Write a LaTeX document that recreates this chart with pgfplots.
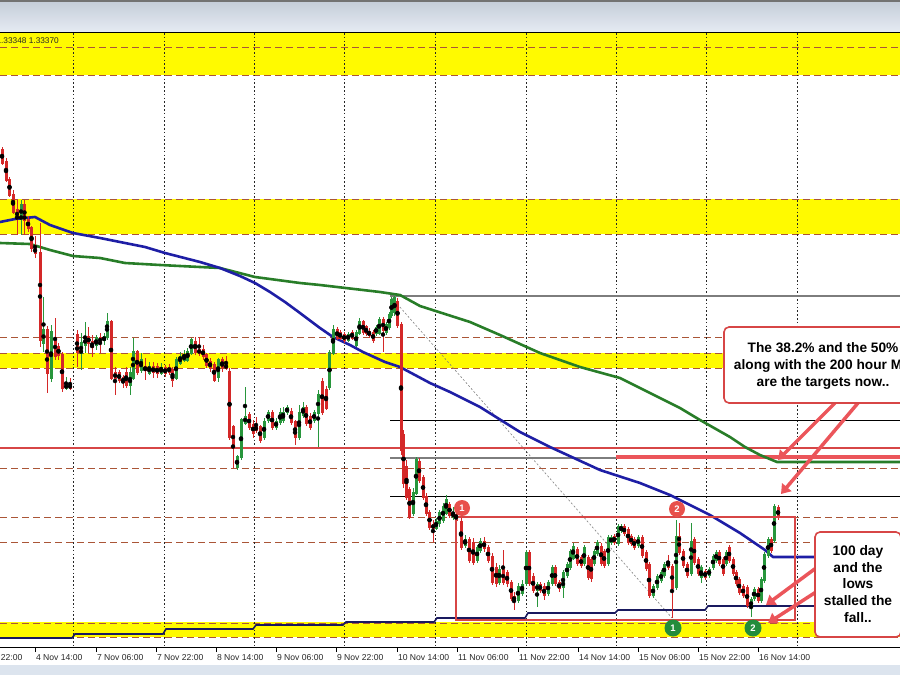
\documentclass[border=0pt]{standalone}
\usepackage{pgfplots}
\pgfplotsset{compat=1.18}
\usepackage{pgfplotstable}
\usepackage{fontspec}
\setmainfont{Liberation Sans}
\usetikzlibrary{arrows.meta}
\definecolor{cgreen}{RGB}{40,150,60}
\definecolor{cred}{RGB}{212,40,40}
\definecolor{mablue}{RGB}{30,30,165}
\definecolor{magreen}{RGB}{40,125,40}
\definecolor{navy}{RGB}{25,25,95}
\definecolor{yel}{RGB}{255,250,0}
\definecolor{dbrown}{RGB}{170,85,55}
\definecolor{fibgray}{RGB}{125,125,125}
\definecolor{boxred}{RGB}{215,70,70}
\definecolor{arrowred}{RGB}{235,85,90}
\definecolor{circred}{RGB}{232,80,75}
\definecolor{circgreen}{RGB}{35,140,60}
\definecolor{chrometop}{RGB}{196,204,216}
\definecolor{chromebot}{RGB}{228,234,242}
\definecolor{stripc}{RGB}{220,228,238}

% candles in screen units: o = open, c = close, h = high, l = low (smaller = higher price)
\pgfplotstableread{
x o c h l
2 150 163 147 165
6 162 180 158 182
9.5 180 195 177 197
13 195 212 190 214
17 210 218 200 235
21 218 205 200 235
24.5 205 220 200 235
28 220 228 216 232
31.5 228 248 226 252
35 248 253 236 258
40 253 340 223 347
43.5 343 330 297 352
47 330 373 326 393
51 378 332 325 382
55 338 356 318 360
58.5 347 355 343 360
62 355 388 352 392
66 388 385 377 390
70 385 388 378 390
77 335 352 330 367
81 353 343 333 370
85 345 338 322 353
88.5 337 343 327 353
92 342 347 335 357
96 345 338 335 350
100 338 342 333 353
104 340 337 333 345
107 337 322 313 340
111 322 378 320 380
115 373 378 367 395
119 373 380 370 383
123 378 382 375 388
126 373 385 367 388
130 385 373 367 395
133 378 352 338 380
137 352 372 350 375
141 370 360 353 373
145 367 370 358 380
149 373 367 362 375
153 367 372 362 378
157 367 373 363 378
161 373 368 363 375
165 368 373 365 377
169 368 372 364 375
172.5 370 380 367 387
176 378 360 357 380
180 363 357 352 365
184 360 356 350 362
187.5 360 352 348 362
191 353 340 338 355
195 342 352 337 355
199 350 353 337 356
203 350 356 345 360
206.5 355 365 353 368
210 362 367 358 372
214 365 380 362 382
218 377 360 358 382
222 360 367 357 372
226 365 368 356 370
229.5 372 437 368 440
233 427 447 425 468
237 467 457 455 470
241 457 420 418 460
245 423 417 387 425
249 415 427 412 430
253 425 433 420 438
256 427 430 417 433
260 427 440 425 443
264 437 422 418 440
268 420 413 410 423
272 413 427 410 430
276 427 422 418 430
280 422 413 408 425
283 420 413 407 423
287 412 408 405 415
291 412 422 408 425
295 422 437 420 445
299 437 413 405 440
303 415 408 402 418
306 408 423 405 426
310 417 427 413 430
314 420 413 410 423
318 413 395 390 447
322 382 412 378 415
326 390 408 386 410
329.5 387 353 350 390
333 353 330 325 355
337 330 338 327 340
340 333 338 330 340
344 335 340 332 343
348 340 335 332 342
352 333 338 330 340
356 345 333 330 347
359.5 333 322 318 335
363 322 332 320 335
366 327 333 325 336
369 332 335 328 338
373 333 340 330 343
376 333 328 325 336
379 333 320 317 335
383 320 330 317 352
386 332 325 322 335
389 327 315 312 330
391.5 315 300 297 318
394.5 312 298 296 316
397.5 302 325 298 328
401 325 450 322 455
403.5 435 483 430 488
406.5 467 497 460 500
409.5 490 517 487 519
413 513 493 488 516
416 493 460 457 495
419 462 480 458 483
423 478 497 475 500
426 497 513 493 516
429.5 513 527 510 530
433 525 528 520 542
436 528 522 518 530
439.5 523 513 510 527
443 520 507 503 523
446 513 500 495 515
449.5 505 515 502 518
453 517 513 507 520
456 515 520 510 523
461 522 547 517 550
465 545 540 535 548
469 540 560 537 563
473 543 562 538 565
477 560 548 545 563
480 550 542 538 553
484 542 548 537 552
488 548 560 545 563
492 557 582 553 585
496 568 583 563 587
499 582 570 565 585
503 570 582 550 585
507 573 583 570 587
511 583 598 580 601
514 597 600 592 610
518 600 587 583 603
522 593 585 580 596
526 583 553 550 586
529 553 583 550 586
533 577 590 573 593
537 590 585 582 607
540 585 590 582 593
544 587 595 583 600
548 593 583 580 596
552 583 568 565 586
555 568 583 565 586
559 583 588 580 592
563 587 573 570 598
567 575 565 562 578
570 567 552 549 570
573 558 547 543 560
577 550 563 547 566
581 558 565 555 568
584 563 548 545 566
588 558 577 555 580
591 560 578 557 582
594 563 552 549 566
597 553 543 540 556
601 547 563 543 566
604 552 565 549 568
608 563 538 535 566
611 542 538 535 545
614 537 542 534 545
618 543 527 524 546
621 530 527 524 533
624 527 533 524 536
628 530 542 527 545
631 537 543 534 546
634 540 547 537 550
638 545 538 535 548
642 538 555 535 558
646 553 568 550 571
649 565 595 562 598
653 595 587 584 598
657 587 577 574 590
661 580 573 570 583
664 575 565 562 578
668 562 567 555 570
672 567 588 564 618
676 587 537 520 590
679 537 552 523 555
683 552 565 549 568
687 565 575 562 578
691 573 542 523 576
694 540 562 537 565
698 560 573 557 576
701 577 568 565 583
705 572 577 569 580
709 575 570 567 578
713 567 557 554 570
716 560 553 550 563
719 553 563 550 566
723 560 573 557 576
726 563 553 550 566
729 548 560 545 563
733 560 573 557 576
736 573 583 570 586
739 580 592 577 595
743 587 595 584 598
747 588 605 585 608
751 607 600 597 617
754 598 590 587 601
758 590 600 587 603
761 600 580 577 603
764 580 555 552 583
768 555 540 537 558
771 540 550 537 553
774 540 507 504 543
778 508 517 505 520
}\candles

\begin{document}
\begin{tikzpicture}
\useasboundingbox (0pt,-28pt) rectangle (900pt,647pt);
\clip (0pt,-28pt) rectangle (900pt,647pt);
\begin{axis}[
  at={(0pt,0pt)}, anchor=south west,
  scale only axis, width=900pt, height=615pt,
  xmin=0, xmax=900, ymin=32, ymax=647, y dir=reverse,
  clip=false,
  axis line style={draw=none},
  ytick=\empty,
  xtick pos=left,
  tick align=outside,
  major tick length=5pt,
  tick style={black, line width=0.8pt},
  xtick={35,96,156,216,276,336,397,457,518,578,638,698,758},
  xticklabels={4 Nov 14:00,7 Nov 06:00,7 Nov 22:00,8 Nov 14:00,9 Nov 06:00,9 Nov 22:00,10 Nov 14:00,11 Nov 06:00,11 Nov 22:00,14 Nov 14:00,15 Nov 06:00,15 Nov 22:00,16 Nov 14:00},
  xticklabel style={anchor=north west, xshift=-2.5pt, yshift=1pt, font=\fontsize{8.6}{10}\selectfont, text=black!85},
]
% window chrome
\shade[top color=chrometop, bottom color=chromebot] (axis cs:0,0) rectangle (axis cs:900,31);
\fill[black!55] (axis cs:0,0) rectangle (axis cs:900,1.5);
\fill[stripc] (axis cs:0,665) rectangle (axis cs:900,676);
% yellow bands
\fill[yel] (axis cs:0,33) rectangle (axis cs:900,75);
\fill[yel] (axis cs:0,199) rectangle (axis cs:900,234);
\fill[yel] (axis cs:0,353) rectangle (axis cs:900,368);
\fill[yel] (axis cs:0,622) rectangle (axis cs:900,637);
% dashed levels
\foreach \yy in {47,75,199,234,337,353,368,468,517,542,623,637}{
  \edef\temp{\noexpand\draw[dbrown, line width=1pt, dash pattern=on 7pt off 4pt] (axis cs:0,\yy) -- (axis cs:900,\yy);}\temp
}
% day separators
\foreach \xx in {73,164,254,344,435,526,616,706,797}{
  \edef\temp{\noexpand\draw[black!85, line width=0.8pt, dash pattern=on 1.6pt off 2.2pt] (axis cs:\xx,33) -- (axis cs:\xx,647);}\temp
}
% frame lines
\draw[black, line width=1pt] (axis cs:0,32) -- (axis cs:900,32);
\draw[black, line width=1pt] (axis cs:0,647) -- (axis cs:900,647);
% level lines
\draw[boxred, line width=1.4pt] (axis cs:0,448) -- (axis cs:900,448);
\draw[fibgray, line width=1.1pt] (axis cs:390,296) -- (axis cs:900,296);
\draw[black, line width=0.9pt] (axis cs:390,420) -- (axis cs:900,420);
\draw[fibgray, line width=1.1pt] (axis cs:390,458) -- (axis cs:900,458);
\draw[black, line width=0.9pt] (axis cs:390,496) -- (axis cs:900,496);
\draw[fibgray, line width=0.6pt, dash pattern=on 2pt off 2pt] (axis cs:392,298) -- (axis cs:672,618);
\draw[arrowred, line width=4pt] (axis cs:616,457) -- (axis cs:900,457);
% 100-day MA (step)
\addplot[navy, line width=1.6pt, mark=none] coordinates {
(0,638) (72,638) (75,634) (163,634) (166,629) (253,629) (256,625) (343,625) (346,622) (434,622) (437,618) (525,618) (528,613) (615,613) (618,610) (705,610) (708,606) (900,606)};
% 200-hour MA
\addplot[magreen, line width=2.6pt, mark=none, line join=round] coordinates {
(0,243) (30,244) (50,250) (73,256) (100,258) (125,263) (160,265) (220,268) (255,277) (300,283) (320,285) (380,292) (400,295) (420,306) (470,322) (500,335) (540,353) (580,367) (620,378) (680,408) (700,420) (730,437) (745,447) (760,455) (777,462) (900,462)};
% 100-hour MA
\addplot[mablue, line width=2.6pt, mark=none, line join=round] coordinates {
(0,222) (15,219) (35,217) (50,225) (73,233) (100,238) (145,247) (165,253) (200,262) (220,268) (240,276) (255,283) (270,292) (285,302) (300,313) (320,328) (333,337) (350,345) (363,352) (385,362) (400,367) (430,383) (450,392) (480,407) (520,432) (550,447) (600,470) (640,483) (670,495) (680,500) (710,515) (740,533) (765,550) (773,557) (900,557)};
% candles: wicks
\addplot[only marks, mark=none, forget plot, x filter/.expression={\thisrow{c}<=\thisrow{o} ? x : nan},
  error bars/.cd, y dir=both, y explicit, error mark=none, error bar style={draw=cgreen, line width=0.8pt}]
  table[x=x, y expr={(\thisrow{h}+\thisrow{l})/2}, y error expr={(\thisrow{l}-\thisrow{h})/2}] {\candles};
\addplot[only marks, mark=none, forget plot, x filter/.expression={\thisrow{c}>\thisrow{o} ? x : nan},
  error bars/.cd, y dir=both, y explicit, error mark=none, error bar style={draw=cred, line width=0.8pt}]
  table[x=x, y expr={(\thisrow{h}+\thisrow{l})/2}, y error expr={(\thisrow{l}-\thisrow{h})/2}] {\candles};
% candles: bodies
\addplot[only marks, mark=none, forget plot, x filter/.expression={\thisrow{c}<=\thisrow{o} ? x : nan},
  error bars/.cd, y dir=both, y explicit, error mark=none, error bar style={draw=cgreen, line width=3pt}]
  table[x=x, y expr={(\thisrow{o}+\thisrow{c})/2}, y error expr={abs(\thisrow{o}-\thisrow{c})/2+0.6}] {\candles};
\addplot[only marks, mark=none, forget plot, x filter/.expression={\thisrow{c}>\thisrow{o} ? x : nan},
  error bars/.cd, y dir=both, y explicit, error mark=none, error bar style={draw=cred, line width=3pt}]
  table[x=x, y expr={(\thisrow{o}+\thisrow{c})/2}, y error expr={abs(\thisrow{o}-\thisrow{c})/2+0.6}] {\candles};
% range rectangle
\draw[boxred, line width=1.8pt] (axis cs:456,517) rectangle (axis cs:795,620);
% circles
\fill[circred] (axis cs:462,508) circle[radius=8pt];
\node[white, font=\bfseries\fontsize{9.5}{10}\selectfont] at (axis cs:462,508) {1};
\fill[circred] (axis cs:677,509) circle[radius=8pt];
\node[white, font=\bfseries\fontsize{9.5}{10}\selectfont] at (axis cs:677,509) {2};
\fill[circgreen] (axis cs:673,628) circle[radius=8.5pt];
\node[white, font=\bfseries\fontsize{9.5}{10}\selectfont] at (axis cs:673,628) {1};
\fill[circgreen] (axis cs:753,628) circle[radius=8.5pt];
\node[white, font=\bfseries\fontsize{9.5}{10}\selectfont] at (axis cs:753,628) {2};
% top label
\node[anchor=west, font=\fontsize{8.3}{10}\selectfont, text=black!85] at (axis cs:-7,41) {1.33348 1.33370};
% arrows
\draw[arrowred, line width=3.5pt, -{Triangle[length=9pt,width=12pt]}] (axis cs:835,403) -- (axis cs:778,460);
\draw[arrowred, line width=3.5pt, -{Triangle[length=9pt,width=12pt]}] (axis cs:858,403) -- (axis cs:781,494);
\draw[arrowred, line width=3.5pt, -{Triangle[length=9pt,width=12pt]}] (axis cs:816,568) -- (axis cs:766,605);
\draw[arrowred, line width=3.5pt, -{Triangle[length=9pt,width=12pt]}] (axis cs:816,592) -- (axis cs:768,623);
% annotation boxes
\draw[boxred, line width=1.6pt, fill=white, rounded corners=5pt] (axis cs:724,327) rectangle (axis cs:940,403);
\node[align=center, font=\bfseries\fontsize{13.7}{16.7}\selectfont] at (axis cs:823,366) {The 38.2\% and the 50\%\\along with the 200 hour MA\\are the targets now..};
\draw[boxred, line width=1.6pt, fill=white, rounded corners=5pt] (axis cs:815,532) rectangle (axis cs:901,637);
\node[align=center, font=\bfseries\fontsize{13.8}{16.6}\selectfont] at (axis cs:858,584) {100 day\\and the\\lows\\stalled the\\fall..};
% partial first label
\node[anchor=north west, font=\fontsize{8.6}{10}\selectfont, text=black!85] at (axis cs:-27.5,651) {3 Nov 22:00};
\end{axis}
\end{tikzpicture}
\end{document}
